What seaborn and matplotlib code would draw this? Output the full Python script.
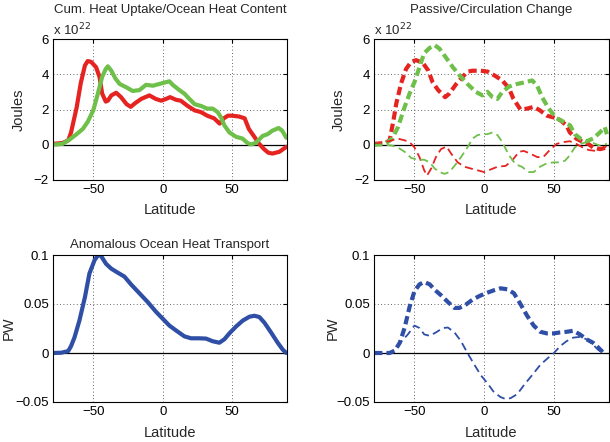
import numpy as np
import pandas as pd
import seaborn as sns
import matplotlib
matplotlib.use("Agg")
import matplotlib.pyplot as plt

# --- data (latitude, value) ---
# top-left: cumulative heat uptake (red) and ocean heat content (green), x 1e22 J
uptake_lat = [-79, -72, -68, -66, -62, -59, -56, -54, -51.5, -48, -45.5, -43.6, -41, -39.5, -37,
              -33.5, -30, -26, -23, -20, -15.5, -9.6, -5, -1, 2.4, 5.3, 9.6, 13, 18, 23, 27.6,
              32, 37, 41, 44, 47, 50, 55, 59, 62, 66, 69.5, 73, 76, 79, 84, 89]
uptake_val = [0.05, 0.1, 0.25, 0.7, 2.1, 3.5, 4.5, 4.75, 4.7, 4.4, 3.85, 2.9, 2.45, 2.5, 2.8,
              2.95, 2.7, 2.3, 2.15, 2.35, 2.6, 2.8, 2.6, 2.5, 2.6, 2.7, 2.55, 2.5, 2.2, 1.95, 1.85,
              1.65, 1.5, 1.2, 1.5, 1.65, 1.65, 1.6, 1.5, 0.9, 0.45, 0.05, -0.25, -0.45, -0.5, -0.4, -0.12]

ohc_lat = [-79, -72, -67, -62, -57.5, -54, -50, -46.7, -43.6, -41, -39.5, -37, -34, -31, -26,
           -21.6, -16.8, -12, -7, -2.4, 2.4, 4.8, 7.2, 12, 15.6, 18, 23, 27.6, 32, 36, 39.6,
           42, 44.4, 48, 52.8, 57.5, 61, 63.5, 67, 72, 75.5, 79, 83.5, 86, 89]
ohc_val = [0.0, 0.05, 0.3, 0.6, 0.9, 1.3, 1.95, 2.9, 3.85, 4.3, 4.45, 4.2, 3.75, 3.45, 3.25,
           3.05, 3.1, 3.4, 3.35, 3.45, 3.55, 3.6, 3.4, 3.1, 2.9, 2.7, 2.3, 2.2, 2.05, 2.05, 1.85,
           1.55, 1.1, 0.7, 0.45, 0.35, 0.1, 0.02, 0.1, 0.5, 0.6, 0.8, 0.95, 0.8, 0.4]

# top-right: passive (thick dashed) and circulation change (thin dashed)
passive_red_lat = [-79, -71, -67.8, -65, -63, -59.5, -56, -52.4, -48.8, -44, -40, -37, -33, -28,
                   -25, -20, -16.6, -12, -8.3, -2.4, 2.4, 7, 13, 17.8, 21, 26, 30.8, 35.5, 40,
                   45, 49.8, 54.5, 59, 61.4, 66, 71, 74.6, 78, 83, 88]
passive_red_val = [0.05, 0.1, 0.25, 1.4, 2.35, 3.5, 4.3, 4.7, 4.8, 4.65, 4.2, 3.55, 3.1, 2.7,
                   2.9, 3.45, 3.75, 4.15, 4.2, 4.2, 4.15, 3.95, 3.65, 3.2, 2.6, 2.0, 2.05, 2.15,
                   1.95, 1.65, 1.55, 1.4, 1.1, 0.7, 0.35, 0.15, 0.05, -0.15, -0.25, -0.15]

passive_green_lat = [-79, -71, -66, -61.8, -57, -53.5, -50, -46.4, -43, -39, -35.5, -32, -27,
                     -22.5, -17.8, -12, -6, -1.2, 2.4, 6, 9.5, 13, 17.8, 23.7, 29.6, 34.4, 38,
                     41.5, 46.3, 52, 57, 61.6, 65, 69, 73.5, 78, 83, 86.5, 88]
passive_green_val = [0.0, 0.05, 0.35, 1.0, 2.15, 2.9, 3.55, 4.4, 5.2, 5.5, 5.65, 5.45, 4.9,
                     4.4, 3.95, 3.45, 3.0, 2.8, 3.0, 2.7, 2.6, 3.0, 3.3, 3.45, 3.55, 3.65, 3.35,
                     2.7, 2.05, 1.5, 1.3, 1.1, 0.6, 0.35, 0.2, 0.35, 0.7, 1.0, 0.6]

circ_red_lat = [-79, -71, -66, -62, -57, -53.5, -50, -46.4, -43, -41, -38, -34.6, -31, -27,
                -23.7, -19, -14, -9.5, -4.7, 0, 4.7, 9.5, 15.4, 20, 25, 28.4, 33, 38, 42.4,
                47, 52, 56.8, 61.4, 66, 70.6, 75, 80, 85, 88]
circ_red_val = [0.05, 0.15, 0.25, 0.35, 0.25, 0.15, -0.15, -0.7, -1.45, -1.75, -1.35, -0.7,
                -0.25, -0.1, -0.5, -1.0, -1.25, -1.35, -1.45, -1.55, -1.4, -1.25, -1.2, -0.9,
                -0.4, -0.35, -0.5, -0.7, -0.7, -0.3, 0.05, 0.15, 0.2, 0.05, -0.15, -0.3, -0.35,
                -0.25, -0.05]

circ_green_lat = [-79, -71, -66, -62, -57, -52.4, -47.6, -43, -39, -35.5, -32, -28.4, -25,
                  -21.3, -16.6, -12, -8.3, -4.7, -1.2, 2.4, 6, 9.5, 13, 17.8, 22.5, 27, 32,
                  35.5, 40, 45, 49.8, 54.5, 58, 61.4, 65, 69, 73.5, 78, 83, 88]
circ_green_val = [0.0, 0.0, -0.05, -0.15, -0.4, -0.75, -0.85, -0.85, -1.0, -1.35, -1.55, -1.65,
                  -1.55, -1.2, -0.7, -0.15, 0.35, 0.55, 0.6, 0.6, 0.7, 0.55, 0.15, -0.6, -1.1,
                  -1.25, -1.55, -1.55, -1.25, -1.05, -1.0, -1.0, -0.9, -0.6, -0.15, 0.05, 0.15,
                  0.1, -0.05, 0.05]

# bottom-left: anomalous ocean heat transport (PW)
oht_lat = [-79, -73, -68, -66, -63.5, -60, -56, -52.8, -49, -46.4, -44.4, -40.8, -37, -32.4,
           -27.6, -22.8, -16.8, -10.8, -4.8, 0, 4.8, 9.6, 15.6, 20.4, 26.4, 31.2, 36, 40.8,
           44.4, 48, 52.8, 57.6, 62.4, 66, 69.6, 73.2, 78, 82.8, 86.4, 89]
oht_val = [0.0, 0.0003, 0.002, 0.007, 0.016, 0.033, 0.057, 0.081, 0.095, 0.1, 0.099, 0.091,
           0.086, 0.082, 0.078, 0.07, 0.061, 0.052, 0.042, 0.035, 0.028, 0.023, 0.017, 0.015,
           0.015, 0.0147, 0.012, 0.0105, 0.014, 0.02, 0.027, 0.033, 0.037, 0.038, 0.0367,
           0.031, 0.021, 0.0105, 0.0035, 0.0]

# bottom-right: passive (thick dashed) and circulation (thin dashed) transport
oht_passive_lat = [-79, -67.8, -64, -60.5, -57, -53.5, -50, -46.4, -43, -39, -35.5, -31, -26,
                   -21.3, -17.8, -13, -8.3, -3.6, 1.2, 7, 11.8, 16.6, 21.3, 26, 30.8, 35.5,
                   40.3, 45, 49.8, 54.5, 59, 63.9, 68.6, 73.4, 78, 81.5, 85]
oht_passive_val = [0.0, 0.0, 0.0025, 0.0105, 0.026, 0.047, 0.063, 0.07, 0.0725, 0.07, 0.0645,
                   0.059, 0.052, 0.046, 0.046, 0.0495, 0.0545, 0.058, 0.061, 0.064, 0.066,
                   0.065, 0.061, 0.05, 0.038, 0.028, 0.0216, 0.02, 0.02, 0.021, 0.0216, 0.0227,
                   0.019, 0.014, 0.0105, 0.006, 0.001]

oht_circ_lat = [-79, -67.8, -64, -59.5, -54.7, -50, -46.4, -43, -39, -34.6, -29.6, -26, -21.3,
                -16.6, -12, -7, -2.4, 2.4, 7, 11.8, 15.4, 19, 23.7, 28.4, 34.3, 40.3, 46.2, 50,
                54.5, 59, 63.9, 68.6, 73.4, 78, 81.5, 85]
oht_circ_val = [0.0, 0.0, 0.0035, 0.0115, 0.019, 0.028, 0.0255, 0.019, 0.0175, 0.021, 0.0255,
                0.026, 0.021, 0.012, 0.0, -0.012, -0.0227, -0.031, -0.04, -0.045, -0.047, -0.046,
                -0.042, -0.033, -0.0227, -0.012, -0.0045, 0.0, 0.007, 0.012, 0.0157, 0.0164,
                0.014, 0.0087, 0.0035, 0.0]

RED = "#e52421"
GREEN = "#6fc04a"
BLUE = "#2f4ea6"

sns.set_style("white")
plt.rcParams["font.family"] = ["Liberation Sans", "DejaVu Sans"]
plt.rcParams["axes.unicode_minus"] = True

fig = plt.figure(figsize=(6.1, 4.42), dpi=100)
W, H = 610, 442


def add_ax(x0, y0, x1, y1):
    # pixel box (top-left origin) -> figure fraction
    return fig.add_axes([x0 / W, 1 - y1 / H, (x1 - x0) / W, (y1 - y0) / H])


def fmt_tick(v):
    return f"{v:g}".replace("-", "\u2212")


def style_ax(ax, ylim, yticks, ylabel, ylab_x):
    ax.set_xlim(-79, 89.5)
    ax.set_ylim(*ylim)
    ax.set_xticks([-50, 0, 50])
    ax.set_yticks(yticks)
    ax.set_yticklabels([fmt_tick(v) for v in yticks])
    ax.axhline(0, color="black", lw=0.9, zorder=1)
    ax.grid(True, color="#333333", ls=(0, (1, 3)), lw=0.6)
    for s in ax.spines.values():
        s.set_color("black")
        s.set_linewidth(0.8)
    ax.tick_params(direction="in", length=3, labelsize=9.5, colors="black", pad=3,
                   top=True, right=True)
    ax.set_xlabel("Latitude", fontsize=10.5)
    ax.set_ylabel(ylabel, fontsize=10.5)
    # label coords: top edge of xlabel, right edge of ylabel
    ax.xaxis.set_label_coords(0.5, -0.165)
    ax.yaxis.set_label_coords(ylab_x, 0.5)


ax1 = add_ax(53, 39, 287, 180)
ax2 = add_ax(374, 39, 609, 180)
ax3 = add_ax(53, 255, 287, 402)
ax4 = add_ax(374, 255, 609, 402)

thick = 3.0
thin = 1.3

sns.lineplot(x=uptake_lat, y=uptake_val, ax=ax1, color=RED, lw=thick)
sns.lineplot(x=ohc_lat, y=ohc_val, ax=ax1, color=GREEN, lw=thick)

sns.lineplot(x=passive_red_lat, y=passive_red_val, ax=ax2, color=RED, lw=thick, ls=(0, (2, 1)))
sns.lineplot(x=passive_green_lat, y=passive_green_val, ax=ax2, color=GREEN, lw=thick, ls=(0, (2, 1)))
sns.lineplot(x=circ_red_lat, y=circ_red_val, ax=ax2, color=RED, lw=thin, ls=(0, (4.5, 2.5)))
sns.lineplot(x=circ_green_lat, y=circ_green_val, ax=ax2, color=GREEN, lw=thin, ls=(0, (4.5, 2.5)))

sns.lineplot(x=oht_lat, y=oht_val, ax=ax3, color=BLUE, lw=thick)

sns.lineplot(x=oht_passive_lat, y=oht_passive_val, ax=ax4, color=BLUE, lw=thick, ls=(0, (2, 1)))
sns.lineplot(x=oht_circ_lat, y=oht_circ_val, ax=ax4, color=BLUE, lw=thin, ls=(0, (4.5, 2.5)))

style_ax(ax1, (-2, 6), [-2, 0, 2, 4, 6], "Joules", -0.115)
style_ax(ax2, (-2, 6), [-2, 0, 2, 4, 6], "Joules", -0.119)
style_ax(ax3, (-0.05, 0.1), [-0.05, 0, 0.05, 0.1], "PW", -0.16)
style_ax(ax4, (-0.05, 0.1), [-0.05, 0, 0.05, 0.1], "PW", -0.145)

for ax in (ax1, ax2):
    ax.text(0.0, 1.005, r"x 10$^{22}$", transform=ax.transAxes, fontsize=9.5,
            ha="left", va="bottom")

ax1.set_title("Cum. Heat Uptake/Ocean Heat Content", fontsize=9.5, pad=19)
ax2.set_title("Passive/Circulation Change", fontsize=9.5, pad=19)
ax3.set_title("Anomalous Ocean Heat Transport", fontsize=9.5, pad=5)

fig.savefig("out.png", dpi=100)
